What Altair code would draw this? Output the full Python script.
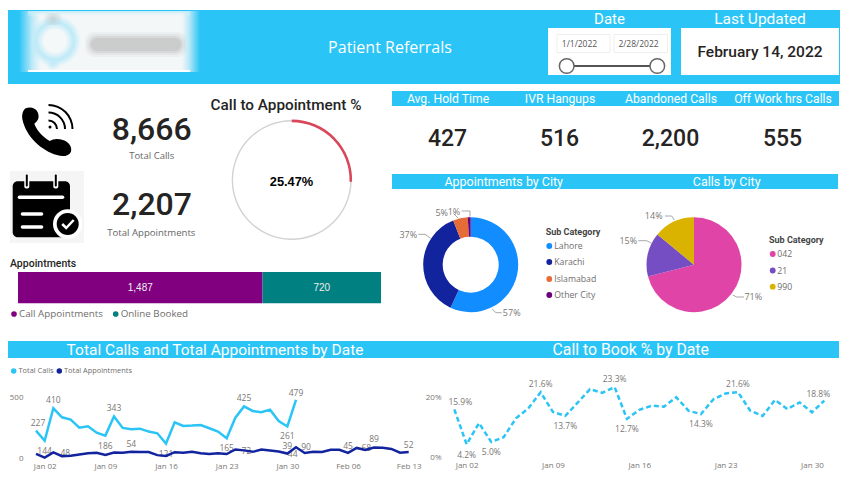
import altair as alt
import pandas as pd

# ---------- data ----------
DAYS_CALLS = pd.date_range("2022-01-01", "2022-01-31")
DAYS_APPTS = pd.date_range("2022-01-01", "2022-02-13")
TOTAL_CALLS = [227, 144, 410, 336, 317, 251, 262, 210, 186, 343, 249, 238, 243, 219, 205, 121,
               295, 265, 268, 273, 246, 219, 165, 333, 425, 388, 377, 399, 306, 261, 479]
TOTAL_APPTS = [36, 6, 48, 17, 21, 32, 42, 45, 28, 47, 45, 54, 52, 51, 26, 19, 50, 45, 53, 42, 35, 42,
               35, 72, 65, 53, 72, 64, 56, 39, 90, 44, 54, 52, 70, 70, 45, 85, 68, 89, 87, 77, 46, 52]
BOOK_PCT = [15.9, 4.2, 11.3, 5.0, 6.6, 12.9, 16.2, 21.6, 15.0, 13.7, 18.1, 22.6, 21.4, 23.3, 12.7, 15.7,
            17.1, 16.8, 19.9, 15.4, 14.3, 19.2, 21.2, 21.6, 15.4, 13.7, 19.0, 16.0, 18.2, 14.9, 18.8]
CITIES = ["Lahore", "Karachi", "Islamabad", "Other City"]
CITY_SHARE = [57, 37, 5, 1]
CODES = ["042", "21", "990"]
CODE_SHARE = [71, 15, 14]
BAR_NAMES = ["Call Appointments", "Online Booked"]
BAR_VALUES = [1487, 720]
GAUGE_PARTS = ["value", "rest"]
GAUGE_VALUES = [25.47, 74.53]
KPI_TITLES = ["Avg. Hold Time", "IVR Hangups", "Abandoned Calls", "Off Work hrs Calls"]
KPI_VALUES = ["427", "516", "2,200", "555"]
CALL_LABEL_DAYS = ["2022-01-01", "2022-01-02", "2022-01-03", "2022-01-09", "2022-01-10",
                   "2022-01-16", "2022-01-23", "2022-01-25", "2022-01-30", "2022-01-31"]
APPT_LABEL_DAYS = ["2022-01-03", "2022-01-12", "2022-01-24", "2022-01-30", "2022-01-31",
                   "2022-02-01", "2022-02-06", "2022-02-08", "2022-02-09", "2022-02-13"]
PCT_LABEL_DAYS = ["2022-01-01", "2022-01-02", "2022-01-04", "2022-01-08", "2022-01-10",
                  "2022-01-14", "2022-01-15", "2022-01-21", "2022-01-24", "2022-01-31"]

# ---------- style / layout ----------
BLUE = "#2bc4f6"
NAVY = "#12239e"
DARK = "#252423"
GREY = "#7a7774"
HEAD = "Roboto"
BODY = "Open Sans"
OX, OY = 8, 8
CALL_OFFSETS = [(2, -8), (0, 10), (0, -8), (0, 10), (0, -8), (0, 10), (0, 10), (0, -8), (0, 10), (0, -7)]
APPT_OFFSETS = [(12, 1), (0, -8), (11, 1), (0, -8), (10, 0), (-12, 1), (0, -7), (1, -2), (0, -8), (0, -7)]
PCT_OFFSETS = [(6, -7), (0, 11), (0, 10), (0, -8), (0, 10), (0, -8), (0, 10), (0, 10), (0, -8), (-6, -7)]

layers = []
BLANK = alt.Data(values=[{}])


def add(c):
    layers.append(c)


def rect(x0, y0, x1, y1, fill, opacity=1.0, radius=0, stroke=None):
    kw = dict(fill=fill, opacity=opacity, cornerRadius=radius)
    if stroke:
        kw.update(stroke=stroke, strokeWidth=1)
    add(alt.Chart(BLANK).mark_rect(**kw).encode(
        x=alt.value(x0 - OX), x2=alt.value(x1 - OX), y=alt.value(y0 - OY), y2=alt.value(y1 - OY)))


def linear(stops, horizontal=True):
    return {"gradient": "linear", "x1": 0, "y1": 0, "x2": 1 if horizontal else 0, "y2": 0 if horizontal else 1,
            "stops": [{"offset": o, "color": c} for o, c in stops]}


def radial(stops):
    return {"gradient": "radial", "x1": 0.5, "y1": 0.5, "x2": 0.5, "y2": 0.5, "r1": 0, "r2": 0.5,
            "stops": [{"offset": o, "color": c} for o, c in stops]}


def text(s, x, y, size, color=DARK, font=BODY, weight="normal", align="center"):
    add(alt.Chart(BLANK).mark_text(text=s, fontSize=size, color=color, font=font, fontWeight=weight,
                                   align=align, baseline="middle").encode(
        x=alt.value(x - OX), y=alt.value(y - OY)))


def seg(x0, y0, x1, y1, color, width, cap="butt"):
    add(alt.Chart(BLANK).mark_rule(color=color, strokeWidth=width, strokeCap=cap).encode(
        x=alt.value(x0 - OX), x2=alt.value(x1 - OX), y=alt.value(y0 - OY), y2=alt.value(y1 - OY)))


def dot(x, y, color, size=24, stroke=None, sw=1.5):
    kw = dict(color=color, opacity=1, size=size)
    if stroke:
        kw = dict(fill=color, stroke=stroke, strokeWidth=sw, opacity=1, size=size)
    add(alt.Chart(BLANK).mark_circle(**kw).encode(x=alt.value(x - OX), y=alt.value(y - OY)))


def ring(x, y, r0, r1, fill, t0=0.0, t1=6.2832, opacity=1.0):
    add(alt.Chart(BLANK).mark_arc(innerRadius=r0, outerRadius=r1, theta=t0, theta2=t1, fill=fill,
                                  opacity=opacity).encode(x=alt.value(x - OX), y=alt.value(y - OY)))


def path(d, x, y, fill=None, stroke=None, sw=0):
    if fill:
        kw = dict(filled=True, fill=fill, strokeWidth=0)
    else:
        kw = dict(filled=False, stroke=stroke, strokeWidth=sw)
    add(alt.Chart(BLANK).mark_point(shape=d, size=4, opacity=1, **kw).encode(
        x=alt.value(x - OX), y=alt.value(y - OY)))


# ---------- header ----------
rect(7, 10, 840, 84, BLUE)
PANEL = "rgba(243,247,248,1)"
PANEL0 = "rgba(243,247,248,0)"
rect(19, 11, 200, 72, linear([(0, PANEL0), (0.075, "rgba(243,247,248,0.75)"), (0.12, PANEL),
                              (0.9, PANEL), (0.94, "rgba(243,247,248,0.7)"), (1, PANEL0)]))
rect(28, 70, 190, 72, "#ffffff")
rect(28, 11, 190, 17, linear([(0, "rgba(185,235,250,0.9)"), (1, "rgba(243,247,248,0)")], False))
rect(29, 15, 81, 67, radial([(0, "rgba(245,248,248,1)"), (0.42, "rgba(245,248,248,1)"),
                             (0.72, "rgba(190,234,248,1)"), (1, "rgba(190,234,248,0)")]))
rect(46, 56, 60, 71, radial([(0, "rgba(190,234,248,1)"), (1, "rgba(190,234,248,0)")]))
rect(43, 13, 63, 25, radial([(0, "rgba(190,205,210,0.8)"), (1, "rgba(190,205,210,0)")]))
for inset, op in [(0, 0.12), (2, 0.2), (4, 0.3), (6, 0.45)]:
    rect(85 + inset, 32 + inset, 187 - inset, 57 - inset, "#bdbdbd", op, radius=9)
text("Patient Referrals", 390, 48, 16, "#ffffff", BODY)
text("Date", 609.5, 19, 15, "#ffffff", HEAD)
text("Last Updated", 760, 19, 15.5, "#ffffff", HEAD)
rect(548, 28, 671, 75, "#ffffff")
rect(681, 28, 839, 75, "#ffffff")
rect(557, 34.5, 610, 52.5, "#ffffff", stroke="#eeeeee")
rect(614, 34.5, 667.5, 52.5, "#ffffff", stroke="#eeeeee")
text("1/1/2022", 579.5, 44, 8.5, "#555555")
text("2/28/2022", 638.5, 44, 8.5, "#555555")
seg(567, 66, 657, 66, "#555555", 2)
dot(566.7, 66, "#ffffff", 215, "#666666")
dot(657.3, 66, "#ffffff", 215, "#666666")
text("February 14, 2022", 760, 52, 15.5, DARK, HEAD, 500)

# ---------- KPI icons ----------
PHONE = ("M20.67 13.33C25 11.67 30.67 12.67 32.67 17.33C34.67 22 33.33 26 29.33 28.67"
         "C31.33 34.67 37.33 41.33 44.67 46C48.67 43.33 53.33 43.33 58.67 45.33"
         "C64 47.33 67.33 52 66 56.67C64 61.33 57.33 62 52 60C36.67 56 20.67 41.33 17.33 24"
         "C16.67 19.33 18 15.33 20.67 13.33Z")
path(PHONE, 5, 95, fill="#000000")
ring(48.5, 129, 23, 25, "#000000", 0, 1.5708)
ring(48.5, 129, 15.5, 17.5, "#000000", 0, 1.5708)
ring(48.5, 129, 7.5, 9.5, "#000000", 0, 1.5708)
dot(50, 127, "#000000", 9)

rect(10, 171, 84, 243, "#f5f5f5")
rect(12.7, 181.3, 70, 237.3, "#000000", radius=5)
rect(24.3, 175, 29.3, 188.5, "#ffffff", radius=2)
rect(53.3, 175, 58.3, 188.5, "#ffffff", radius=2)
rect(25.8, 174.5, 27.8, 186.5, "#000000", radius=1)
rect(54.8, 174.5, 56.8, 186.5, "#000000", radius=1)
seg(19.5, 197.3, 62.5, 197.3, "#ffffff", 3.6, "round")
seg(22.5, 214, 41.5, 214, "#ffffff", 3.6, "round")
seg(22.5, 227, 41.5, 227, "#ffffff", 3.6, "round")
ring(67.7, 224, 0, 14.7, "#ffffff")
ring(67.7, 224, 0, 11, "#000000")
path("M-5.5 0L-1.5 4L6 -4", 67.7, 224, stroke="#ffffff", sw=2.5)

text("8,666", 151.7, 129.5, 32, DARK, HEAD, 500)
text("Total Calls", 151.7, 156.3, 9.5, "#666666")
text("2,207", 152, 205, 32, DARK, HEAD, 500)
text("Total Appointments", 151.3, 232.7, 9.6, "#666666")

# ---------- gauge ----------
text("Call to Appointment %", 286, 105, 15.3, DARK, HEAD, 500)
gauge = pd.DataFrame({"part": GAUGE_PARTS, "v": GAUGE_VALUES, "i": [0, 1]})
add(alt.Chart(gauge).mark_arc(innerRadius=58.6, outerRadius=60, color="#d2d2d2").encode(
    theta=alt.Theta("v:Q", stack=True), order=alt.Order("i:Q"),
    x=alt.value(291.7 - OX), y=alt.value(180 - OY)))
add(alt.Chart(gauge).mark_arc(innerRadius=57.8, outerRadius=60.4, color="#d9485a").encode(
    theta=alt.Theta("v:Q", stack=True), order=alt.Order("i:Q"),
    opacity=alt.condition(alt.datum.part == "value", alt.value(1), alt.value(0)),
    x=alt.value(291.7 - OX), y=alt.value(180 - OY)))
text(f"{GAUGE_VALUES[0]:.2f}%", 291.5, 182, 12.8, "#000000", "Liberation Sans", "bold")

# ---------- stacked bar ----------
text("Appointments", 10, 263.7, 10.5, DARK, HEAD, 500, "left")
bar_colors = ["#800080", "#008080"]
bar_x = alt.Scale(domain=[0, sum(BAR_VALUES)], range=[18 - OX, 381 - OX])
bar = pd.DataFrame({"name": BAR_NAMES, "v": BAR_VALUES, "i": [0, 1],
                    "mid": [BAR_VALUES[0] / 2, BAR_VALUES[0] + BAR_VALUES[1] / 2],
                    "label": [f"{v:,}" for v in BAR_VALUES]})
add(alt.Chart(bar).mark_bar(size=31.3).encode(
    x=alt.X("v:Q", stack="zero", scale=bar_x, axis=None), order=alt.Order("i:Q"),
    color=alt.Color("name:N", scale=alt.Scale(domain=BAR_NAMES, range=bar_colors), legend=None),
    y=alt.value(287.6 - OY)))
add(alt.Chart(bar).mark_text(color="#eeeeee", fontSize=10, font="Liberation Sans").encode(
    x=alt.X("mid:Q", scale=bar_x, axis=None), text="label:N", y=alt.value(287.5 - OY)))
dot(14, 314, bar_colors[0], 32)
text(BAR_NAMES[0], 19, 314, 9.8, "#6f6d6b", BODY, align="left")
dot(115.7, 314, bar_colors[1], 32)
text(BAR_NAMES[1], 120.7, 314, 9.8, "#6f6d6b", BODY, align="left")

# ---------- KPI row, right ----------
rect(392, 91, 839, 106, BLUE)
for t, v, cx in zip(KPI_TITLES, KPI_VALUES, [448, 560, 671, 783]):
    text(t, cx, 98.7, 12.2, "#ffffff", HEAD)
    text(v, cx - 0.5, 139, 23, DARK, HEAD, 500)

# ---------- donut and pie ----------
rect(392, 174, 838, 189, BLUE)
text("Appointments by City", 503.7, 181.7, 12.5, "#ffffff", HEAD)
text("Calls by City", 726.7, 181.7, 12.5, "#ffffff", HEAD)
city_colors = ["#118dff", NAVY, "#e66c37", "#6b007b"]
code_colors = ["#e044a7", "#744ec2", "#d9b300"]
city = pd.DataFrame({"c": CITIES, "v": CITY_SHARE, "i": range(4)})
code = pd.DataFrame({"c": CODES, "v": CODE_SHARE, "i": range(3)})
add(alt.Chart(city).mark_arc(innerRadius=28, outerRadius=47.5).encode(
    theta=alt.Theta("v:Q", stack=True), order=alt.Order("i:Q"),
    color=alt.Color("c:N", scale=alt.Scale(domain=CITIES, range=city_colors), legend=None),
    x=alt.value(470.7 - OX), y=alt.value(264.7 - OY)))
add(alt.Chart(code).mark_arc(outerRadius=47.5).encode(
    theta=alt.Theta("v:Q", stack=True), order=alt.Order("i:Q"),
    color=alt.Color("c:N", scale=alt.Scale(domain=CODES, range=code_colors), legend=None),
    x=alt.value(694 - OX), y=alt.value(264.7 - OY)))

LEAD = "#a8a8a8"
for a, b, c, d in [(492.3, 309.3, 496, 312.7), (496, 312.7, 501.7, 312.7),
                   (430.7, 238.3, 425, 234.3), (425, 234.3, 418.3, 234.3),
                   (461.7, 211, 470, 211), (470, 211, 470, 216.7),
                   (453.3, 213.3, 458.3, 218.3),
                   (732.7, 295, 736.7, 297), (736.7, 297, 744, 297),
                   (638.3, 240.7, 646.7, 240.7), (646.7, 240.7, 651.7, 243.3),
                   (665, 216, 671.7, 216), (671.7, 216, 674.3, 220)]:
    seg(a, b, c, d, LEAD, 1)
for s, x, y in [(CITY_SHARE[0], 511.7, 313), (CITY_SHARE[1], 408.3, 235), (CITY_SHARE[2], 441.7, 213.3),
                (CITY_SHARE[3], 454, 212.3), (CODE_SHARE[0], 753.3, 297), (CODE_SHARE[1], 628.3, 241.3),
                (CODE_SHARE[2], 653.7, 216.3)]:
    text(f"{s}%", x, y, 9, GREY)

text("Sub Category", 545.7, 232, 9, "#444444", HEAD, "bold", "left")
for n, col, y in zip(CITIES, city_colors, [246, 262, 279, 295]):
    dot(549.3, y, col, 34)
    text(n, 554.3, y, 8.7, "#6f6d6b", BODY, align="left")
text("Sub Category", 769, 240.3, 9, "#444444", HEAD, "bold", "left")
for n, col, y in zip(CODES, code_colors, [254, 270.5, 286.7]):
    dot(772.7, y, col, 34)
    text(n, 777.3, y, 8.7, "#6f6d6b", BODY, align="left")

# ---------- line charts ----------
rect(7, 341, 420, 358, BLUE)
text("Total Calls and Total Appointments by Date", 215, 350, 15.5, "#ffffff", HEAD)
rect(420, 341, 839, 358, BLUE)
text("Call to Book % by Date", 630.7, 350, 15.8, "#ffffff", HEAD)

dot(13.7, 371, BLUE, 30)
text("Total Calls", 18.5, 371, 7.4, "#6f6d6b", BODY, align="left")
dot(59.3, 371, NAVY, 30)
text("Total Appointments", 64, 371, 7.4, "#6f6d6b", BODY, align="left")

x1_dom = [alt.DateTime(year=2022, month=1, date=1), alt.DateTime(year=2022, month=2, date=13)]
x2_dom = [alt.DateTime(year=2022, month=1, date=1), alt.DateTime(year=2022, month=1, date=31)]
sx1 = alt.Scale(domain=x1_dom, range=[36 - OX, 408.7 - OX])
sy1 = alt.Scale(domain=[0, 500], range=[458.3 - OY, 397.3 - OY], nice=False, zero=False)
sx2 = alt.Scale(domain=x2_dom, range=[454.3 - OX, 824.3 - OX])
sy2 = alt.Scale(domain=[0, 20], range=[457 - OY, 397 - OY], nice=False, zero=False)


def date_axis(offset, values):
    return alt.Axis(orient="bottom", offset=offset, title=None, domain=False, ticks=False, grid=False,
                    format="%b %d", values=values, labelFont=BODY, labelFontSize=8, labelColor=GREY,
                    labelPadding=2, labelOverlap=False, labelFlush=False)


def num_axis(offset, values, expr=None):
    kw = dict(labelExpr=expr) if expr else {}
    return alt.Axis(orient="left", offset=offset, title=None, domain=False, ticks=False, grid=False,
                    values=values, labelFont=BODY, labelFontSize=8, labelColor=GREY, labelPadding=0, **kw)


def dt(m, d):
    return alt.DateTime(year=2022, month=m, date=d)


x1_ticks = [dt(1, 2), dt(1, 9), dt(1, 16), dt(1, 23), dt(1, 30), dt(2, 6), dt(2, 13)]
x2_ticks = x1_ticks[:5]

df_calls = pd.DataFrame({"d": DAYS_CALLS, "v": TOTAL_CALLS})
df_appts = pd.DataFrame({"d": DAYS_APPTS, "v": TOTAL_APPTS})
df_pct = pd.DataFrame({"d": DAYS_CALLS, "v": BOOK_PCT})


def day_labels(df, days, offsets, sx, sy, suffix=""):
    idx = df.set_index("d")["v"]
    for day, (dx, dy) in zip(days, offsets):
        v = idx[pd.Timestamp(day)]
        lab = f"{v:.1f}%" if suffix else f"{v}"
        add(alt.Chart(pd.DataFrame({"d": [pd.Timestamp(day)], "v": [v], "t": [lab]})).mark_text(
            dx=dx, dy=dy, fontSize=8.5, font=BODY, color=GREY).encode(
            x=alt.X("d:T", scale=sx, axis=None), y=alt.Y("v:Q", scale=sy, axis=None), text="t:N"))


day_labels(df_calls, CALL_LABEL_DAYS, CALL_OFFSETS, sx1, sy1)
day_labels(df_appts, APPT_LABEL_DAYS, APPT_OFFSETS, sx1, sy1)
day_labels(df_pct, PCT_LABEL_DAYS, PCT_OFFSETS, sx2, sy2, "%")

H = 465
W = 834
add(alt.Chart(df_calls).mark_line(color=BLUE, strokeWidth=2.5).encode(
    x=alt.X("d:T", scale=sx1, axis=date_axis(-(H - (460 - OY)), x1_ticks)),
    y=alt.Y("v:Q", scale=sy1, axis=num_axis(-(23 - OX), [0, 500]))))
add(alt.Chart(df_appts).mark_line(color=NAVY, strokeWidth=2.5).encode(
    x=alt.X("d:T", scale=sx1, axis=None), y=alt.Y("v:Q", scale=sy1, axis=None)))
add(alt.Chart(df_pct).mark_line(color=BLUE, strokeWidth=2.5, strokeDash=[5, 3]).encode(
    x=alt.X("d:T", scale=sx2, axis=date_axis(-(H - (459.5 - OY)), x2_ticks)),
    y=alt.Y("v:Q", scale=sy2, axis=num_axis(-(441 - OX), [0, 20], "datum.value + '%'"))))

chart = alt.layer(*layers).resolve_scale(
    x="independent", y="independent", theta="independent", color="independent", opacity="independent"
).properties(width=W, height=H, padding=0, background="#ffffff",
             autosize=alt.AutoSizeParams(type="none")).configure_view(stroke=None)

chart.save("out.html", embed_options={"renderer": "svg", "actions": False})
